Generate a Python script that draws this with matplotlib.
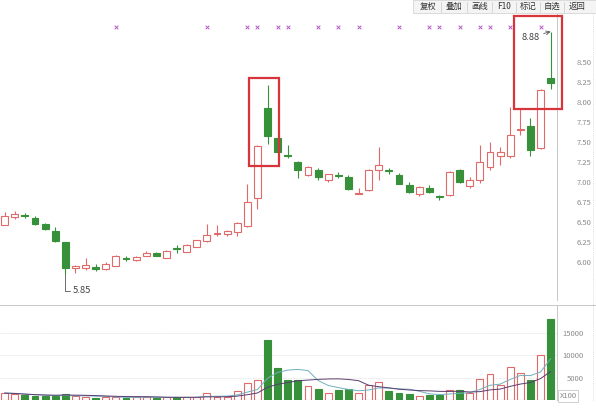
import matplotlib.pyplot as plt
import numpy as np
import pandas as pd
from matplotlib.lines import Line2D
from matplotlib.patches import Rectangle

plt.rcParams['font.family'] = ['Noto Sans CJK SC', 'DejaVu Sans']

# --- daily OHLC ---
opens = [6.46, 6.56, 6.59, 6.55, 6.47, 6.39, 6.25, 5.93, 5.92, 5.94,
         5.91, 5.95, 6.045, 6.02, 6.075, 6.11, 6.05, 6.165, 6.12, 6.19,
         6.26, 6.355, 6.35, 6.37, 6.45, 6.80, 7.92, 7.55, 7.335, 7.25,
         7.09, 7.15, 7.03, 7.085, 7.06, 6.855, 6.90, 7.15, 7.145, 7.09,
         6.96, 6.85, 6.93, 6.83, 6.84, 7.15, 6.95, 7.03, 7.19, 7.33,
         7.33, 7.645, 7.70, 7.43, 8.30]
closes = [6.58, 6.60, 6.57, 6.48, 6.41, 6.26, 5.92, 5.95, 5.96, 5.91,
          5.98, 6.08, 6.04, 6.06, 6.11, 6.08, 6.14, 6.16, 6.21, 6.27,
          6.34, 6.36, 6.39, 6.49, 6.75, 7.45, 7.575, 7.38, 7.325, 7.15,
          7.19, 7.06, 7.10, 7.075, 6.91, 6.86, 7.15, 7.21, 7.14, 6.98,
          6.87, 6.94, 6.87, 6.81, 7.13, 7.00, 7.025, 7.25, 7.38, 7.37,
          7.59, 7.655, 7.40, 8.15, 8.24]
highs = [6.62, 6.64, 6.61, 6.57, 6.49, 6.44, 6.25, 5.96, 6.05, 5.97,
         6.00, 6.09, 6.07, 6.07, 6.14, 6.12, 6.15, 6.21, 6.22, 6.28,
         6.48, 6.46, 6.40, 6.50, 6.98, 7.46, 8.21, 7.57, 7.46, 7.26,
         7.20, 7.17, 7.10, 7.13, 7.09, 6.93, 7.16, 7.44, 7.18, 7.11,
         7.00, 6.95, 6.96, 6.84, 7.14, 7.16, 7.06, 7.46, 7.50, 7.44,
         7.94, 7.92, 7.80, 8.16, 8.88]
lows = [6.46, 6.54, 6.55, 6.46, 6.40, 6.25, 5.85, 5.86, 5.90, 5.89,
        5.90, 5.95, 6.01, 6.01, 6.07, 6.07, 6.05, 6.11, 6.12, 6.19,
        6.25, 6.33, 6.33, 6.32, 6.44, 6.66, 7.475, 7.37, 7.30, 7.05,
        7.07, 7.02, 7.00, 7.05, 6.90, 6.85, 6.89, 7.03, 7.10, 6.97,
        6.86, 6.83, 6.86, 6.77, 6.83, 6.99, 6.92, 6.99, 7.15, 7.21,
        7.30, 7.59, 7.32, 7.41, 8.16]
volumes = [1550, 1400, 1030, 800, 800, 900, 1400, 850, 700, 500,
           650, 650, 500, 650, 650, 500, 600, 600, 650, 650,
           1550, 750, 750, 2000, 3800, 4400, 13500, 7240, 4600, 4600,
           3050, 2380, 1640, 2300, 2380, 1640, 3270, 4000, 2000, 1550,
           1320, 960, 1100, 1200, 2150, 2150, 1550, 4770, 5900, 3430,
           7380, 6120, 4550, 10000, 18230]
info_marks = [11, 20, 24, 25, 27, 28, 31, 33, 35, 39, 42, 43, 45, 47, 48, 50, 53]
price_ticks = [6.00, 6.25, 6.50, 6.75, 7.00, 7.25, 7.50, 7.75, 8.00, 8.25, 8.50]
volume_ticks = [5000, 10000, 15000]
toolbar_items = ["复权", "叠加", "画线", "F10", "标记", "自选", "返回"]

RED = "#e06a6a"
GREEN = "#37913a"
GRID = "#e6e6e6"
AXIS = "#c8c8c8"
LABEL = "#8a8a8a"

W, H = 596, 408


def box(x0, y0, x1, y1):
    return [x0 / W, 1 - y1 / H, (x1 - x0) / W, (y1 - y0) / H]


fig = plt.figure(figsize=(W / 100, H / 100), dpi=100)
ax = fig.add_axes(box(0, 14, 556.5, 300))
vax = fig.add_axes(box(0, 304.5, 556.5, 400), sharex=ax)

df = pd.DataFrame({"o": opens, "c": closes, "h": highs, "l": lows, "v": volumes})
x = np.arange(len(df))
up = df["c"] >= df["o"]
colors = np.where(up, RED, GREEN)
faces = np.where(up, "white", GREEN)

# candles
ax.vlines(x, df["l"], df["h"], colors=colors, lw=0.8, zorder=2)
body = (df["c"] - df["o"]).abs().clip(lower=0.012)
ax.bar(x, body, bottom=df[["o", "c"]].min(axis=1), width=0.68,
       color=faces, edgecolor=colors, lw=0.8, zorder=3)

ax.set_xlim(-0.465, 54.58)
ax.set_ylim(5.525, 9.10)
ax.set_yticks(price_ticks)
ax.set_yticklabels([f"{t:.2f}" for t in price_ticks])
ax.set_yticks(np.arange(6.0, 8.51, 0.5), minor=True)
ax.yaxis.tick_right()
ax.tick_params(axis="y", which="major", length=0, pad=25, labelsize=5.5,
               labelcolor=LABEL)
ax.tick_params(axis="y", which="minor", length=5, color=AXIS, width=0.6)
for lab in ax.get_yticklabels():
    lab.set_horizontalalignment("right")
ax.grid(axis="y", which="minor", color=GRID, lw=0.6, ls=(0, (2, 1)))
ax.tick_params(axis="x", bottom=False, labelbottom=False)
for s in ("left", "top", "bottom"):
    ax.spines[s].set_visible(False)
ax.spines["right"].set_color(AXIS)
ax.spines["right"].set_linewidth(0.7)

# info-mine markers along the top
ax.scatter(info_marks, [8.94] * len(info_marks), marker="x", s=7,
           color="#b45ac8", lw=0.7, zorder=4, clip_on=False)

# highlight boxes
ax.add_patch(Rectangle((24.19, 7.20), 2.94, 1.10, fill=False,
                       edgecolor="#d8343c", lw=1.6, zorder=5))
ax.add_patch(Rectangle((50.40, 7.91), 4.68, 1.165, fill=False,
                       edgecolor="#d8343c", lw=1.6, zorder=5, clip_on=False))

# extreme price labels
lo_i = int(df["l"].idxmin())
hi_i = int(df["h"].idxmax())
ax.annotate(f"{df['l'][lo_i]:.2f}", xy=(lo_i, df["l"][lo_i]),
            xytext=(5, -12), textcoords="offset points", fontsize=6.8,
            color="#444444", va="center", ha="left",
            arrowprops=dict(arrowstyle="-", color="#555555", lw=0.6,
                            connectionstyle="angle,angleA=0,angleB=90,rad=0",
                            shrinkA=0, shrinkB=0))
ax.annotate(f"{df['h'][hi_i]:.2f}", xy=(hi_i, df["h"][hi_i]),
            xytext=(-8, -4), textcoords="offset points", fontsize=6.8,
            color="#444444", va="center", ha="right",
            arrowprops=dict(arrowstyle="->", color="#555555", lw=0.6,
                            shrinkA=1, shrinkB=0))

# volume panel
vax.bar(x, df["v"], width=0.68, color=faces, edgecolor=colors, lw=0.8, zorder=3)
ma5 = df["v"].rolling(5, min_periods=1).mean()
ma10 = df["v"].rolling(10, min_periods=1).mean()
vax.plot(x, ma5, color="#6fb0bd", lw=0.7, zorder=4)
vax.plot(x, ma10, color="#5b3b70", lw=0.7, zorder=4)
vax.set_ylim(0, 21430)
vax.set_yticks(volume_ticks)
vax.set_yticklabels([str(t) for t in volume_ticks])
vax.yaxis.tick_right()
vax.tick_params(axis="y", length=0, pad=19.5, labelsize=5.5, labelcolor=LABEL)
for lab in vax.get_yticklabels():
    lab.set_horizontalalignment("right")
vax.grid(axis="y", color=GRID, lw=0.6, ls=(0, (2, 1)))
vax.tick_params(axis="x", bottom=False, labelbottom=False)
for s in ("left", "bottom"):
    vax.spines[s].set_visible(False)
vax.spines["top"].set_color(AXIS)
vax.spines["right"].set_color(AXIS)
vax.spines["top"].set_linewidth(0.7)
vax.spines["right"].set_linewidth(0.7)
fig.text(568 / W, 1 - 396 / H, "X100", fontsize=5.5, color=LABEL,
         ha="center", va="center",
         bbox=dict(boxstyle="square,pad=0.2", fc="white", ec=AXIS, lw=0.6))

# extend top separator under the axis labels
fig.add_artist(Line2D([556.5 / W, 1], [1 - 304.5 / H] * 2, color=AXIS, lw=0.7))
fig.add_artist(Line2D([593 / W] * 2, [1 - 14 / H, 1 - 400 / H],
                      color="#d0d0d0", lw=0.6, ls=(0, (1, 1.5))))

# toolbar strip
fig.add_artist(Rectangle((413 / W, 1 - 13 / H), 183 / W, 13 / H,
                         transform=fig.transFigure, fc="#f4f4f4",
                         ec="#d6d6d6", lw=0.6))
item_x = [428, 454, 480, 504, 528, 552, 577]
for xi, item in zip(item_x, toolbar_items):
    fig.text(xi / W, 1 - 6.5 / H, item, fontsize=6, color="#333333",
             ha="center", va="center")
for sx in [441, 467, 492, 516, 540, 564]:
    fig.add_artist(Line2D([sx / W] * 2, [1 - 1.5 / H, 1 - 11.5 / H],
                          color="#d0d0d0", lw=0.6))

fig.savefig("out.png", dpi=100)
